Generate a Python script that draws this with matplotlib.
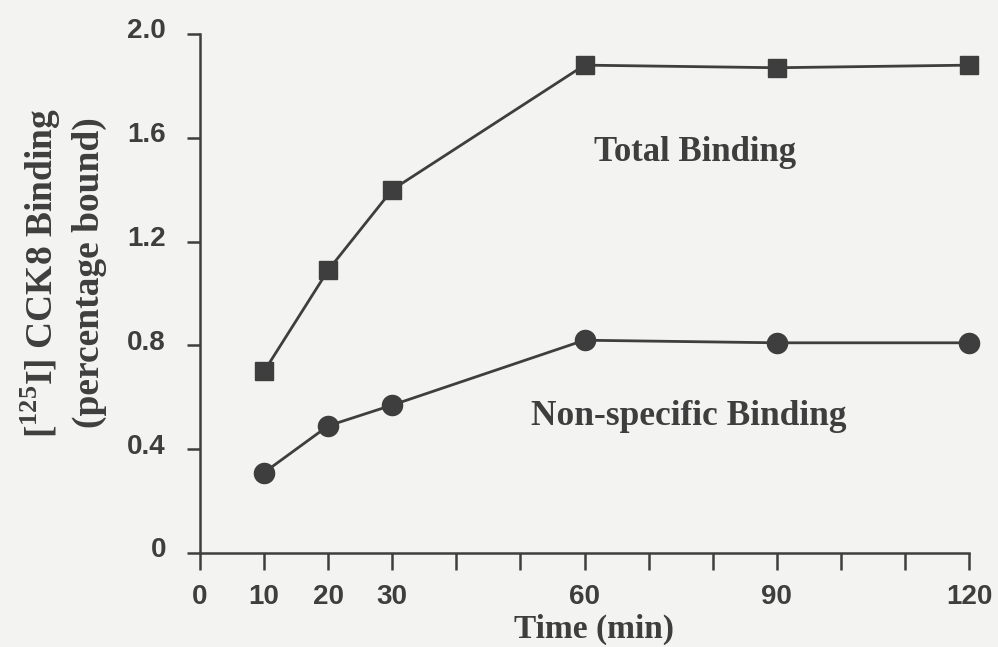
import matplotlib
matplotlib.use("Agg")
import matplotlib.pyplot as plt
from matplotlib.transforms import ScaledTranslation

# Binding time course
time_min = [10, 20, 30, 60, 90, 120]
total_binding = [0.70, 1.09, 1.40, 1.88, 1.87, 1.88]
nonspecific_binding = [0.31, 0.49, 0.57, 0.82, 0.81, 0.81]

x_ticks = list(range(0, 121, 10))
x_tick_labels = ["0", "10", "20", "30", "", "", "60", "", "", "90", "", "", "120"]
y_ticks = [0, 0.4, 0.8, 1.2, 1.6, 2.0]
y_tick_labels = ["0", "0.4", "0.8", "1.2", "1.6", "2.0"]

plt.rcParams["mathtext.fontset"] = "custom"
plt.rcParams["mathtext.rm"] = "Liberation Serif:bold"
plt.rcParams["mathtext.bf"] = "Liberation Serif:bold"

bg = "#f3f3f1"
ink = "#3e3e3e"
W, H = 998, 647

fig = plt.figure(figsize=(W / 100, H / 100), dpi=100, facecolor=bg)
ax = fig.add_axes([200 / W, 1 - 553 / H, 769 / W, 519 / H], facecolor=bg)

ax.plot(time_min, total_binding, color=ink, lw=2.0, marker="s", ms=13.5,
        clip_on=False, zorder=3)
ax.plot(time_min, nonspecific_binding, color=ink, lw=2.0, marker="o", ms=14.5,
        clip_on=False, zorder=3)

ax.set_xlim(0, 120)
ax.set_ylim(0, 2.0)
for s in ("top", "right"):
    ax.spines[s].set_visible(False)
for s in ("left", "bottom"):
    ax.spines[s].set_color(ink)
    ax.spines[s].set_linewidth(1.8)

tick_font = dict(family="Liberation Sans", weight="bold", size=20)
ax.set_xticks(x_ticks)
ax.set_xticklabels(x_tick_labels, fontdict=tick_font, color=ink)
ax.set_yticks(y_ticks)
ax.set_yticklabels(y_tick_labels, fontdict=tick_font, color=ink)
ax.tick_params(axis="x", direction="out", length=12, width=1.8, color=ink, pad=10)
ax.tick_params(axis="y", direction="out", length=9.5, width=1.8, color=ink, pad=15)
# y tick labels sit slightly above their ticks
for lbl in ax.get_yticklabels():
    lbl.set_transform(lbl.get_transform() + ScaledTranslation(0, 4 / 72, fig.dpi_scale_trans))

serif = dict(family="Liberation Serif", weight="bold", color=ink)
fig.text(594 / W, 1 - 638 / H, "Time (min)", ha="center", va="baseline",
         fontsize=24, **serif)
fig.text(41 / W, 1 - 273 / H, r"[$^{125}$I] CCK8 Binding", rotation=90,
         ha="center", va="center", fontsize=27, **serif)
fig.text(89 / W, 1 - 273 / H, "(percentage bound)", rotation=90,
         ha="center", va="center", fontsize=27, **serif)

ax.text(77.2, 1.51, "Total Binding", ha="center", va="baseline", fontsize=25, **serif)
ax.text(76.3, 0.493, "Non-specific Binding", ha="center", va="baseline", fontsize=25.5, **serif)

fig.savefig("out.png", dpi=100, facecolor=bg)
